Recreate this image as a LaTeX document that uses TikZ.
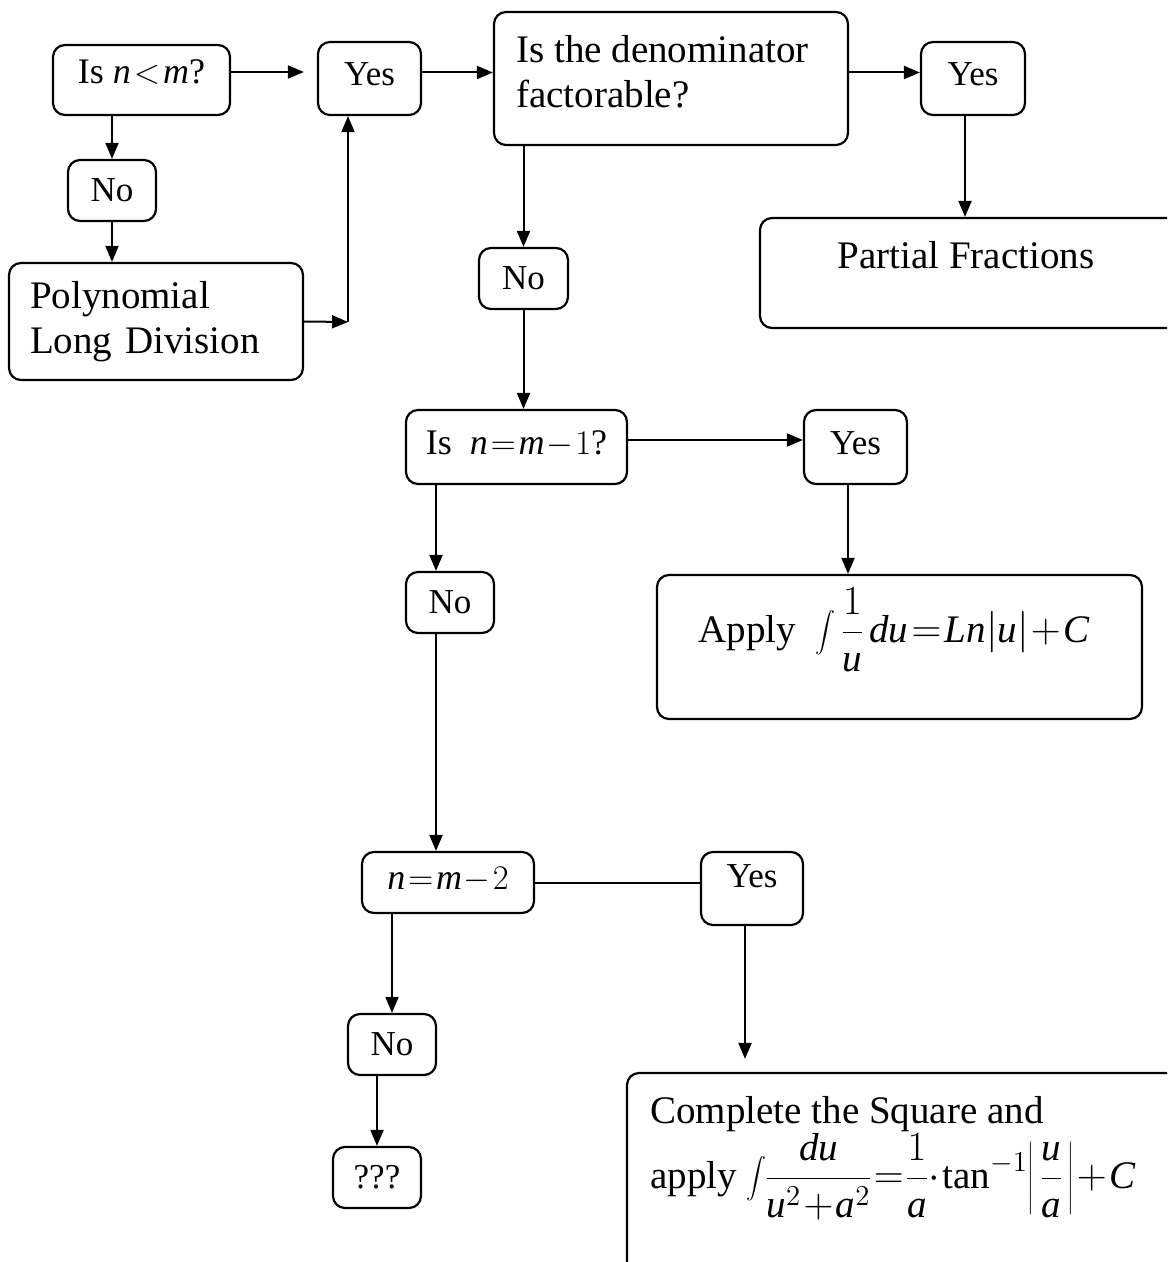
\documentclass[tikz,border=0pt]{standalone}
\usepackage{fontspec}
\setmainfont{Liberation Serif}
\usetikzlibrary{arrows.meta,calc}
\thickmuskip=1.5mu plus 1mu
\medmuskip=1mu
\nulldelimiterspace=0pt
\newcommand{\mv}[1]{\mathit{#1}}
\tikzset{
  flowbox/.style={draw,line width=1.1pt,rounded corners=6pt,inner sep=0pt},
  smallbox/.style={flowbox,font=\fontsize{17.5}{20}\selectfont,text height=12pt,text depth=1pt},
  yesbox/.style={smallbox,text depth=5pt},
  mathbox/.style={flowbox,font=\fontsize{18}{21}\selectfont,text height=12pt,text depth=5pt},
  bigtext/.style={inner sep=0pt,font=\fontsize{19.5}{22.5}\selectfont},
  arr/.style={-{Triangle[length=8pt,width=6.5pt]},line width=1pt},
}
\begin{document}
\begin{tikzpicture}[x=0.5pt,y=-0.5pt]
    \useasboundingbox (0,0) rectangle (1167,1262);
    \clip (0,0) rectangle (1167,1262);
    % first question
    \node[mathbox,minimum width=88.5pt,minimum height=35pt,text depth=8.5pt] (isnm) at (141.5,80) {Is $\mv{n}<\mv{m}$?};
    \node[yesbox,minimum width=51.5pt,minimum height=36.5pt] (yesa) at (369.5,78.5) {Yes};
    \node[smallbox,minimum width=44pt,minimum height=30.5pt] (noa) at (112,190.5) {No};
    \node[flowbox,font=\fontsize{19.5}{22.5}\selectfont,text width=126pt,align=left,inner xsep=10.5pt,minimum height=58.5pt] (poly) at (156,321.5) {Polynomial\\Long Division};
    \coordinate (turn) at (348,322);
    % denominator
    \node[flowbox,minimum width=177pt,minimum height=66.5pt] (denom) at (671,78.5) {};
    \node[bigtext,anchor=north west,align=left] at ($(denom.north west)+(23,24)$) {Is the denominator\\factorable?};
    \node[yesbox,minimum width=52pt,minimum height=36.5pt] (yesb) at (973,78.5) {Yes};
    \node[flowbox,minimum width=210pt,minimum height=55pt] (partial) at (970,273) {};
    \node[bigtext] at ($(partial.north west)+(207,38)$) {Partial Fractions};
    \node[smallbox,minimum width=44.5pt,minimum height=30.5pt] (nob) at (523.5,278.5) {No};
    % n = m-1
    \node[mathbox,minimum width=110.5pt,minimum height=37pt] (isone) at (516.5,447) {Is~ $\mv{n}=\mv{m}-1$?};
    \node[yesbox,minimum width=51.5pt,minimum height=37pt] (yesc) at (855.5,447) {Yes};
    \node[flowbox,minimum width=242.5pt,minimum height=72pt] (applyone) at (899.5,647) {};
    \node[bigtext] at ($(applyone.north west)+(238,56)$) {Apply~ $\displaystyle\int\frac{1}{\mv{u}}\,\mv{du}=\mv{Ln}|\mv{u}|+\mv{C}$};
    \node[smallbox,minimum width=44pt,minimum height=30.5pt] (noc) at (450,602.5) {No};
    % n = m-2
    \node[mathbox,minimum width=86pt,minimum height=30.5pt] (nmtwo) at (448,882.5) {$\mv{n}=\mv{m}-2$};
    \node[yesbox,minimum width=51pt,minimum height=36.5pt,text depth=13pt] (yesd) at (752,888.5) {Yes};
    \node[flowbox,minimum width=279pt,minimum height=101pt] (applytwo) at (906,1174) {};
    \node[bigtext,anchor=north west,align=left] at ($(applytwo.north west)+(24,24)$) {Complete the Square and\\apply $\displaystyle\int\!\frac{\mv{du}}{\mv{u}^2+\mv{a}^2}=\frac{1}{\mv{a}}\cdot\tan^{-1}\!\left|\,\frac{\mv{u}}{\mv{a}}\,\right|+\mv{C}$};
    \node[smallbox,minimum width=44pt,minimum height=30.5pt] (nod) at (392,1044.5) {No};
    \node[smallbox,minimum width=44pt,minimum height=30.5pt] (qqq) at (377,1177.5) {???};
    % arrows
    \draw[arr,shorten >=6.5pt] ([yshift=4pt]isnm.east) -- ([yshift=4pt]isnm.east -| yesa.west);
    \draw[arr] ([yshift=3pt]yesa.east) -- ([yshift=3pt]yesa.east -| denom.west);
    \draw[arr] (noa.north |- isnm.south) -- (noa.north);
    \draw[arr] (noa.south) -- (noa.south |- poly.north);
    \draw[arr] (poly.east) -- (turn);
    \draw[arr] (turn) -- (turn |- yesa.south);
    \draw[arr] ([yshift=3pt]denom.east) -- ([yshift=3pt]denom.east -| yesb.west);
    \draw[arr] ([xshift=-4pt]yesb.south) -- ([xshift=-4pt]yesb.south |- partial.north);
    \draw[arr] (nob.north |- denom.south) -- (nob.north);
    \draw[arr] (nob.south) -- (nob.south |- isone.north);
    \draw[arr] ([yshift=3.5pt]isone.east) -- ([yshift=3.5pt]isone.east -| yesc.west);
    \draw[arr] ([xshift=-3.75pt]yesc.south) -- ([xshift=-3.75pt]yesc.south |- applyone.north);
    \draw[arr] ([xshift=-7pt]noc.north |- isone.south) -- ([xshift=-7pt]noc.north);
    \draw[arr] ([xshift=-7pt]noc.south) -- ([xshift=-7pt]noc.south |- nmtwo.north);
    \draw[line width=1pt] (nmtwo.east) -- (nmtwo.east -| yesd.west);
    \draw[arr,shorten >=6.5pt] ([xshift=-3.5pt]yesd.south) -- ([xshift=-3.5pt]yesd.south |- applytwo.north);
    \draw[arr] (nod.north |- nmtwo.south) -- (nod.north);
    \draw[arr] (qqq.north |- nod.south) -- (qqq.north);
\end{tikzpicture}
\end{document}
